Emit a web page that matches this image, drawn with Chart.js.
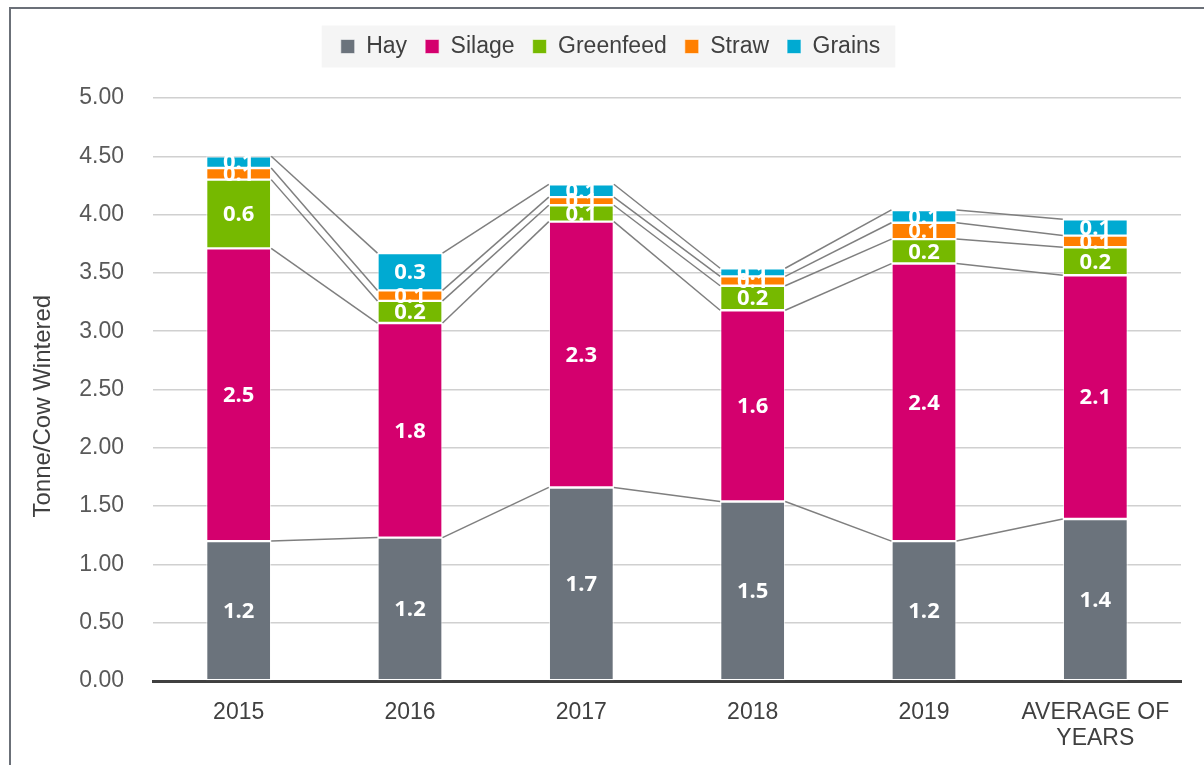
<!DOCTYPE html>
<html>
<head>
<meta charset="utf-8">
<script src="https://cdn.jsdelivr.net/npm/chart.js@4.4.1/dist/chart.umd.min.js"></script>
<style>
  html, body { margin: 0; padding: 0; background: #ffffff; }
  #wrap { position: relative; width: 1204px; height: 765px; }
</style>
</head>
<body>
<div id="wrap"><canvas id="c"></canvas></div>
<script>
const categories = ['2015', '2016', '2017', '2018', '2019', ['AVERAGE OF', 'YEARS']];
const hay       = [1.20, 1.23, 1.66, 1.54, 1.20, 1.39];
const silage    = [2.51, 1.84, 2.28, 1.64, 2.38, 2.09];
const greenfeed = [0.59, 0.19, 0.14, 0.21, 0.21, 0.24];
const straw     = [0.10, 0.09, 0.07, 0.08, 0.14, 0.10];
const grains    = [0.10, 0.32, 0.11, 0.07, 0.11, 0.14];
const seriesNames = ['Hay', 'Silage', 'Greenfeed', 'Straw', 'Grains'];
const seriesColors = ['#6b737c', '#d4006e', '#76b900', '#ff7f00', '#00aad2'];
const yTickValues = [0, 0.5, 1, 1.5, 2, 2.5, 3, 3.5, 4, 4.5, 5];

const FONT = '"Liberation Sans", Arial, sans-serif';

const framePlugin = {
  id: 'frame',
  beforeDraw(chart) {
    const ctx = chart.ctx;
    ctx.save();
    ctx.fillStyle = '#6b7078';
    ctx.fillRect(9, 7, 1195, 2);
    ctx.fillRect(9, 7, 2, 758);
    const lg = chart.legend;
    if (lg && lg.legendHitBoxes && lg.legendHitBoxes.length) {
      const hb = lg.legendHitBoxes;
      const first = hb[0], last = hb[hb.length - 1];
      const cy = first.top + first.height / 2;
      ctx.fillStyle = '#f5f5f5';
      ctx.fillRect(first.left - 19, cy - 21, (last.left + last.width + 15) - (first.left - 19), 42);
    }
    ctx.restore();
  }
};

const legendShift = {
  id: 'legendShift',
  afterLayout(chart) {
    const lg = chart.legend;
    if (lg) { lg.left += 20; lg.right += 20; }
  }
};

const seriesLines = {
  id: 'seriesLines',
  afterDatasetsDraw(chart) {
    const ctx = chart.ctx;
    ctx.save();
    ctx.strokeStyle = '#7f7f7f';
    ctx.lineWidth = 1.5;
    chart.data.datasets.forEach((ds, i) => {
      const els = chart.getDatasetMeta(i).data;
      for (let j = 0; j < els.length - 1; j++) {
        const a = els[j], b = els[j + 1];
        ctx.beginPath();
        ctx.moveTo(a.x + a.width / 2, a.y);
        ctx.lineTo(b.x - b.width / 2, b.y);
        ctx.stroke();
      }
    });
    ctx.fillStyle = '#ffffff';
    ctx.font = 'bold 22px "Open Sans", sans-serif';
    ctx.textAlign = 'center';
    ctx.textBaseline = 'middle';
    chart.data.datasets.forEach((ds, i) => {
      chart.getDatasetMeta(i).data.forEach((el, j) => {
        const v = ds.data[j];
        ctx.fillText(v.toFixed(1), el.x, (el.y + el.base) / 2 + 1);
      });
    });
    ctx.restore();
  }
};

const seriesData = [hay, silage, greenfeed, straw, grains];

new Chart(document.getElementById('c'), {
  type: 'bar',
  data: {
    labels: categories,
    datasets: seriesNames.map((n, i) => ({
      label: n,
      data: seriesData[i],
      backgroundColor: seriesColors[i],
      borderColor: 'rgba(255,255,255,0.55)',
      borderWidth: 1.2,
      borderSkipped: false,
      categoryPercentage: 1.0,
      barPercentage: 0.38
    }))
  },
  options: {
    responsive: true,
    maintainAspectRatio: false,
    animation: false,
    layout: { padding: { left: 0, right: 23, top: 17, bottom: 0 } },
    plugins: {
      legend: {
        position: 'top',
        labels: {
          boxWidth: 14,
          boxHeight: 14,
          padding: 18,
          color: '#404040',
          font: { family: FONT, size: 23 }
        }
      },
      subtitle: {
        display: true,
        text: '',
        weight: 500,
        font: { size: 10, lineHeight: 1 },
        padding: { top: 0, bottom: 20 }
      },
      tooltip: { enabled: false }
    },
    scales: {
      x: {
        stacked: true,
        grid: { display: false, drawTicks: false },
        border: { display: true, color: '#404040', width: 3 },
        ticks: {
          color: '#404040',
          padding: 18,
          font: { family: FONT, size: 23, lineHeight: 1.15 },
          maxRotation: 0
        },
        afterFit(scale) { scale.height = 84; }
      },
      y: {
        stacked: true,
        min: 0,
        max: 5,
        afterBuildTicks(scale) { scale.ticks = yTickValues.map(v => ({ value: v })); },
        grid: { color: '#d0d0d0', lineWidth: 1.5, drawTicks: false },
        border: { display: false },
        ticks: {
          color: '#595959',
          padding: 29,
          font: { family: FONT, size: 23 },
          callback: v => Number(v).toFixed(2)
        },
        title: {
          display: true,
          text: 'Tonne/Cow Wintered     ',
          color: '#404040',
          font: { family: FONT, size: 24 },
          padding: { top: 29, bottom: 0 }
        },
        afterFit(scale) { scale.width = 153; }
      }
    }
  },
  plugins: [framePlugin, legendShift, seriesLines]
});
</script>
</body>
</html>
